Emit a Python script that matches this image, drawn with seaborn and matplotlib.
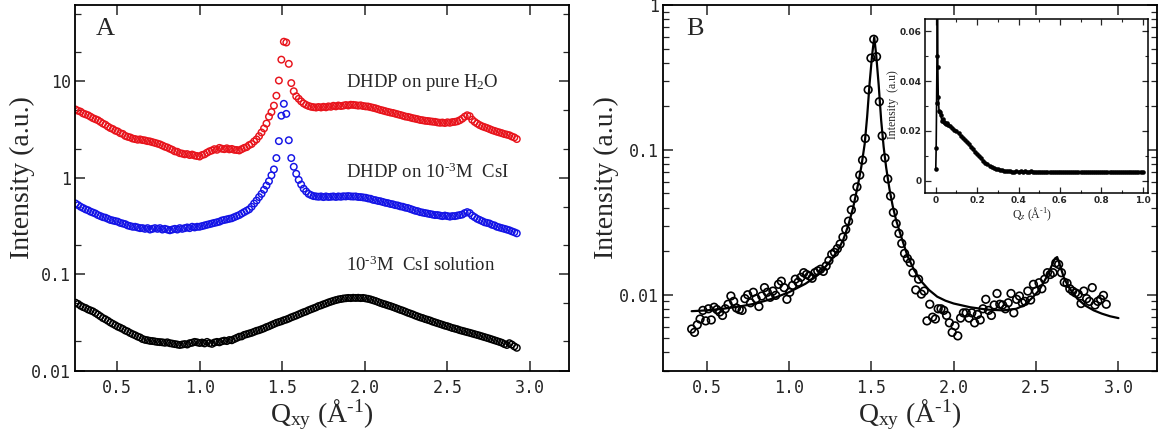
import numpy as np
import matplotlib
matplotlib.use("Agg")
import matplotlib.pyplot as plt
import seaborn as sns
from matplotlib.ticker import LogLocator, NullFormatter, MultipleLocator

# ---------------- Panel A data ----------------
Q_A = [
    0.250, 0.265, 0.280, 0.295, 0.310, 0.325, 0.340, 0.355, 0.370, 0.385,
    0.400, 0.415, 0.430, 0.445, 0.460, 0.475, 0.490, 0.505, 0.520, 0.535,
    0.550, 0.565, 0.580, 0.595, 0.610, 0.625, 0.640, 0.655, 0.670, 0.685,
    0.700, 0.715, 0.730, 0.745, 0.760, 0.775, 0.790, 0.805, 0.820, 0.835,
    0.850, 0.865, 0.880, 0.895, 0.910, 0.925, 0.940, 0.955, 0.970, 0.985,
    1.000, 1.015, 1.030, 1.045, 1.060, 1.075, 1.090, 1.105, 1.120, 1.135,
    1.150, 1.165, 1.180, 1.195, 1.210, 1.225, 1.240, 1.255, 1.270, 1.285,
    1.300, 1.315, 1.330, 1.345, 1.360, 1.375, 1.390, 1.405, 1.420, 1.435,
    1.450, 1.465, 1.480, 1.495, 1.510, 1.525, 1.540, 1.555, 1.570, 1.585,
    1.600, 1.615, 1.630, 1.645, 1.660, 1.675, 1.690, 1.705, 1.720, 1.735,
    1.750, 1.765, 1.780, 1.795, 1.810, 1.825, 1.840, 1.855, 1.870, 1.885,
    1.900, 1.915, 1.930, 1.945, 1.960, 1.975, 1.990, 2.005, 2.020, 2.035,
    2.050, 2.065, 2.080, 2.095, 2.110, 2.125, 2.140, 2.155, 2.170, 2.185,
    2.200, 2.215, 2.230, 2.245, 2.260, 2.275, 2.290, 2.305, 2.320, 2.335,
    2.350, 2.365, 2.380, 2.395, 2.410, 2.425, 2.440, 2.455, 2.470, 2.485,
    2.500, 2.515, 2.530, 2.545, 2.560, 2.575, 2.590, 2.605, 2.620, 2.635,
    2.650, 2.665, 2.680, 2.695, 2.710, 2.725, 2.740, 2.755, 2.770, 2.785,
    2.800, 2.815, 2.830, 2.845, 2.860, 2.875, 2.890, 2.905, 2.920,
]

I_H2O = [
    5.10, 4.95, 4.85, 4.65, 4.55, 4.45, 4.30, 4.15, 4.05, 3.95,
    3.80, 3.65, 3.55, 3.40, 3.28, 3.20, 3.08, 3.02, 2.90, 2.85,
    2.72, 2.66, 2.62, 2.55, 2.52, 2.48, 2.50, 2.46, 2.44, 2.40,
    2.38, 2.34, 2.30, 2.26, 2.22, 2.16, 2.10, 2.06, 2.00, 1.95,
    1.88, 1.86, 1.80, 1.78, 1.75, 1.76, 1.72, 1.74, 1.70, 1.68,
    1.66, 1.72, 1.75, 1.82, 1.88, 1.92, 1.98, 1.95, 2.04, 2.00,
    1.98, 2.02, 1.97, 1.99, 1.95, 1.94, 1.92, 1.98, 2.04, 2.08,
    2.18, 2.24, 2.38, 2.50, 2.70, 2.95, 3.25, 3.65, 4.30, 4.80,
    5.60, 7.10, 10.2, 16.8, 25.8, 25.3, 15.2, 9.6, 7.9, 7.0,
    6.6, 6.2, 5.9, 5.7, 5.55, 5.45, 5.40, 5.35, 5.42, 5.36,
    5.45, 5.38, 5.50, 5.45, 5.58, 5.50, 5.62, 5.55, 5.60, 5.68,
    5.62, 5.72, 5.70, 5.66, 5.60, 5.64, 5.55, 5.50, 5.48, 5.40,
    5.32, 5.25, 5.15, 5.05, 4.98, 4.90, 4.82, 4.75, 4.70, 4.62,
    4.55, 4.48, 4.40, 4.32, 4.28, 4.22, 4.15, 4.10, 4.05, 3.98,
    3.95, 3.90, 3.88, 3.85, 3.82, 3.80, 3.75, 3.72, 3.74, 3.70,
    3.76, 3.72, 3.78, 3.80, 3.85, 3.95, 4.10, 4.30, 4.45, 4.35,
    4.00, 3.80, 3.65, 3.52, 3.42, 3.35, 3.28, 3.20, 3.12, 3.06,
    3.00, 2.95, 2.90, 2.84, 2.80, 2.76, 2.68, 2.62, 2.52,
]

I_CSI = [
    0.54, 0.52, 0.50, 0.485, 0.47, 0.46, 0.445, 0.435, 0.425, 0.41,
    0.40, 0.39, 0.385, 0.375, 0.365, 0.36, 0.355, 0.35, 0.34, 0.335,
    0.33, 0.32, 0.315, 0.31, 0.31, 0.305, 0.30, 0.30, 0.295, 0.30,
    0.29, 0.295, 0.30, 0.295, 0.30, 0.29, 0.295, 0.29, 0.285, 0.29,
    0.295, 0.29, 0.30, 0.295, 0.30, 0.305, 0.30, 0.31, 0.305, 0.31,
    0.31, 0.315, 0.32, 0.325, 0.33, 0.335, 0.34, 0.345, 0.35, 0.36,
    0.365, 0.37, 0.375, 0.38, 0.39, 0.40, 0.41, 0.425, 0.44, 0.455,
    0.47, 0.50, 0.54, 0.58, 0.63, 0.68, 0.75, 0.83, 0.92, 1.06,
    1.22, 1.60, 2.40, 4.40, 5.85, 4.60, 2.45, 1.60, 1.30, 1.10,
    0.95, 0.85, 0.77, 0.72, 0.68, 0.66, 0.645, 0.64, 0.635, 0.64,
    0.63, 0.64, 0.632, 0.635, 0.64, 0.632, 0.64, 0.635, 0.642, 0.64,
    0.645, 0.64, 0.638, 0.64, 0.632, 0.63, 0.625, 0.62, 0.61, 0.605,
    0.59, 0.585, 0.575, 0.57, 0.56, 0.55, 0.545, 0.535, 0.53, 0.52,
    0.515, 0.505, 0.50, 0.49, 0.485, 0.475, 0.465, 0.455, 0.45, 0.44,
    0.435, 0.43, 0.425, 0.42, 0.415, 0.41, 0.41, 0.405, 0.40, 0.405,
    0.40, 0.395, 0.40, 0.40, 0.405, 0.41, 0.415, 0.43, 0.44, 0.43,
    0.405, 0.39, 0.375, 0.365, 0.355, 0.345, 0.34, 0.335, 0.325, 0.32,
    0.31, 0.305, 0.30, 0.295, 0.29, 0.285, 0.278, 0.272, 0.265,
]

I_SOL = [
    0.0505, 0.049, 0.047, 0.0455, 0.0445, 0.043, 0.042, 0.041, 0.0395, 0.038,
    0.0365, 0.035, 0.034, 0.0328, 0.0315, 0.0305, 0.0295, 0.0285, 0.0278, 0.027,
    0.026, 0.0254, 0.0245, 0.0238, 0.0232, 0.0225, 0.022, 0.0212, 0.0208, 0.0206,
    0.0203, 0.0202, 0.020, 0.0198, 0.0197, 0.0196, 0.0194, 0.0196, 0.0192, 0.019,
    0.0188, 0.0186, 0.0184, 0.0186, 0.0188, 0.0186, 0.0192, 0.0194, 0.0198, 0.0196,
    0.0193, 0.0195, 0.0191, 0.0198, 0.0192, 0.0189, 0.0195, 0.0198, 0.0196, 0.0201,
    0.0204, 0.0202, 0.0207, 0.0206, 0.0212, 0.0218, 0.0224, 0.0226, 0.0234, 0.0238,
    0.0242, 0.0246, 0.0252, 0.0258, 0.0262, 0.0268, 0.0274, 0.0282, 0.0288, 0.0296,
    0.0304, 0.0312, 0.0318, 0.0324, 0.0332, 0.0338, 0.0346, 0.0356, 0.0364, 0.0372,
    0.0382, 0.0392, 0.0402, 0.041, 0.0422, 0.0432, 0.0442, 0.0452, 0.0466, 0.0474,
    0.0486, 0.0496, 0.0508, 0.0518, 0.0528, 0.0538, 0.0546, 0.0552, 0.0558, 0.0562,
    0.0566, 0.0564, 0.0568, 0.0566, 0.0568, 0.0564, 0.0566, 0.056, 0.0554, 0.0546,
    0.0536, 0.0526, 0.0514, 0.0502, 0.0492, 0.0484, 0.0474, 0.0466, 0.0456, 0.0446,
    0.0436, 0.0426, 0.0418, 0.0408, 0.0398, 0.039, 0.0382, 0.0372, 0.0364, 0.0356,
    0.035, 0.0342, 0.0336, 0.033, 0.0322, 0.0316, 0.031, 0.0304, 0.0298, 0.0292,
    0.0288, 0.0282, 0.0276, 0.0272, 0.0268, 0.0262, 0.0258, 0.0254, 0.025, 0.0246,
    0.0242, 0.0238, 0.0234, 0.023, 0.0226, 0.0222, 0.0218, 0.0214, 0.021, 0.0206,
    0.0202, 0.0198, 0.0194, 0.0188, 0.0184, 0.0192, 0.0186, 0.0178, 0.0172,
]

LABEL_H2O = "DHDP on pure H$_2$O"
LABEL_CSI = "DHDP on 10$^{\\text{-3}}$M  CsI"
LABEL_SOL = "10$^{\\text{-3}}$M  CsI solution"

# ---------------- Panel B data ----------------
Q_B = [
    0.410, 0.427, 0.444, 0.461, 0.478, 0.495, 0.512, 0.529, 0.546, 0.563,
    0.580, 0.597, 0.614, 0.631, 0.648, 0.665, 0.682, 0.699, 0.716, 0.733,
    0.750, 0.767, 0.784, 0.801, 0.818, 0.835, 0.852, 0.869, 0.886, 0.903,
    0.920, 0.937, 0.954, 0.971, 0.988, 1.005, 1.022, 1.039, 1.056, 1.073,
    1.090, 1.107, 1.124, 1.141, 1.158, 1.175, 1.192, 1.209, 1.226, 1.243,
    1.260, 1.277, 1.294, 1.311, 1.328, 1.345, 1.362, 1.379, 1.396, 1.413,
    1.430, 1.447, 1.464, 1.481, 1.498, 1.515, 1.532, 1.549, 1.566, 1.583,
    1.600, 1.617, 1.634, 1.651, 1.668, 1.685, 1.702, 1.719, 1.736, 1.753,
    1.770, 1.787, 1.804, 1.821, 1.838, 1.855, 1.872, 1.889, 1.906, 1.923,
    1.940, 1.957, 1.974, 1.991, 2.008, 2.025, 2.042, 2.059, 2.076, 2.093,
    2.110, 2.127, 2.144, 2.161, 2.178, 2.195, 2.212, 2.229, 2.246, 2.263,
    2.280, 2.297, 2.314, 2.331, 2.348, 2.365, 2.382, 2.399, 2.416, 2.433,
    2.450, 2.467, 2.484, 2.501, 2.518, 2.535, 2.552, 2.569, 2.586, 2.603,
    2.620, 2.637, 2.654, 2.671, 2.688, 2.705, 2.722, 2.739, 2.756, 2.773,
    2.790, 2.807, 2.824, 2.841, 2.858, 2.875, 2.892, 2.909, 2.926,
]

I_B = [
    0.0058, 0.0055, 0.0062, 0.0068, 0.0078, 0.0066, 0.0080, 0.0067, 0.0082, 0.0079,
    0.0076, 0.0072, 0.0080, 0.0086, 0.0098, 0.0090, 0.0081, 0.0079, 0.0078, 0.0094,
    0.0100, 0.0088, 0.0104, 0.0094, 0.0083, 0.0098, 0.0112, 0.0104, 0.0096, 0.0106,
    0.0099, 0.0118, 0.0124, 0.0112, 0.0093, 0.0104, 0.0116, 0.0128, 0.0122, 0.0132,
    0.0142, 0.0138, 0.0135, 0.0130, 0.0142, 0.0146, 0.0150, 0.0145, 0.0158, 0.0172,
    0.0190, 0.0196, 0.0208, 0.0224, 0.0250, 0.0282, 0.0322, 0.0385, 0.0462, 0.0555,
    0.0670, 0.0850, 0.1200, 0.2600, 0.4300, 0.5800, 0.4400, 0.2150, 0.1250, 0.0880,
    0.0630, 0.0480, 0.0370, 0.0310, 0.0265, 0.0226, 0.0193, 0.0178, 0.0167, 0.0142,
    0.0108, 0.0128, 0.0101, 0.0106, 0.0066, 0.0086, 0.0070, 0.0068, 0.0080, 0.0080,
    0.0078, 0.0072, 0.0064, 0.0055, 0.0061, 0.0052, 0.0069, 0.0075, 0.0075, 0.0069,
    0.0075, 0.0064, 0.0073, 0.0067, 0.0080, 0.0093, 0.0078, 0.0072, 0.0085, 0.0102,
    0.0086, 0.0085, 0.0080, 0.0088, 0.0102, 0.0075, 0.0093, 0.0098, 0.0088, 0.0090,
    0.0106, 0.0092, 0.0118, 0.0106, 0.0121, 0.0110, 0.0128, 0.0142, 0.0138, 0.0142,
    0.0166, 0.0162, 0.0142, 0.0122, 0.0120, 0.0110, 0.0106, 0.0103, 0.0101, 0.0087,
    0.0106, 0.0094, 0.0090, 0.0112, 0.0085, 0.0090, 0.0093, 0.0099, 0.0086,
]

FIT_Q = [
    0.41, 0.50, 0.60, 0.70, 0.80, 0.90, 1.00, 1.10, 1.15, 1.20,
    1.25, 1.30, 1.33, 1.36, 1.39, 1.42, 1.44, 1.46, 1.475, 1.49,
    1.505, 1.518, 1.53, 1.545, 1.56, 1.575, 1.59, 1.61, 1.63, 1.65,
    1.68, 1.72, 1.76, 1.80, 1.85, 1.90, 1.95, 2.00, 2.10, 2.20,
    2.30, 2.38, 2.43, 2.48, 2.52, 2.56, 2.59, 2.615, 2.628, 2.645,
    2.67, 2.70, 2.75, 2.80, 2.85, 2.90, 2.95, 3.00,
]
FIT_I = [
    0.0077, 0.0078, 0.0080, 0.0083, 0.0087, 0.0094, 0.0104, 0.0119, 0.0130, 0.0146,
    0.0170, 0.0205, 0.0240, 0.0300, 0.0400, 0.0580, 0.0770, 0.1100, 0.1700, 0.2900,
    0.4500, 0.6000, 0.4500, 0.2800, 0.1600, 0.1050, 0.0760, 0.0540, 0.0410, 0.0330,
    0.0255, 0.0185, 0.0148, 0.0125, 0.0108, 0.0097, 0.0091, 0.0087, 0.0082, 0.0079,
    0.0078, 0.0080, 0.0085, 0.0096, 0.0108, 0.0130, 0.0154, 0.0178, 0.0182, 0.0160,
    0.0130, 0.0112, 0.0094, 0.0084, 0.0078, 0.0074, 0.0071, 0.0069,
]

# ---------------- Inset data ----------------
QZ = [
    0.000, 0.002, 0.004, 0.006, 0.008, 0.010, 0.012, 0.016,
    0.020, 0.025, 0.030, 0.035, 0.040, 0.045, 0.050, 0.055, 0.060,
    0.07, 0.08, 0.09, 0.10, 0.11, 0.12, 0.13, 0.14, 0.15, 0.16,
    0.17, 0.18, 0.19, 0.20, 0.21, 0.22, 0.23, 0.24, 0.25, 0.26,
    0.27, 0.28, 0.29, 0.30, 0.31, 0.32, 0.33, 0.34, 0.35, 0.36,
    0.37, 0.38, 0.39, 0.40, 0.41, 0.42, 0.43, 0.44, 0.45, 0.46,
    0.47, 0.48, 0.49, 0.50, 0.51, 0.52, 0.53, 0.54, 0.55, 0.56,
    0.57, 0.58, 0.59, 0.60, 0.61, 0.62, 0.63, 0.64, 0.65, 0.66,
    0.67, 0.68, 0.69, 0.70, 0.71, 0.72, 0.73, 0.74, 0.75, 0.76,
    0.77, 0.78, 0.79, 0.80, 0.81, 0.82, 0.83, 0.84, 0.85, 0.86,
    0.87, 0.88, 0.89, 0.90, 0.91, 0.92, 0.93, 0.94, 0.95, 0.96,
    0.97, 0.98, 0.99, 1.00,
]
IZ = [
    0.0046, 0.0131, 0.0312, 0.0500, 0.1000, 0.0458, 0.0337, 0.0280,
    0.0274, 0.0262, 0.0238, 0.0246, 0.0236, 0.0230, 0.0228, 0.0232, 0.0224,
    0.0220, 0.0213, 0.0205, 0.0198, 0.0190, 0.0181, 0.0173, 0.0164, 0.0156, 0.0146,
    0.0136, 0.0126, 0.0116, 0.0105, 0.0097, 0.0089, 0.0080, 0.0072, 0.0066, 0.0060,
    0.0055, 0.0051, 0.0048, 0.0046, 0.0044, 0.0042, 0.0040, 0.0038, 0.0037, 0.0037,
    0.0036, 0.0035, 0.0037, 0.0036, 0.0038, 0.0036, 0.0037, 0.0035, 0.0036, 0.0037,
    0.0035, 0.0036, 0.0034, 0.0036, 0.0035, 0.0034, 0.0035, 0.0036, 0.0034, 0.0035,
    0.0034, 0.0035, 0.0034, 0.0036, 0.0034, 0.0035, 0.0033, 0.0035, 0.0034, 0.0035,
    0.0034, 0.0033, 0.0035, 0.0034, 0.0034, 0.0035, 0.0033, 0.0034, 0.0035, 0.0034,
    0.0033, 0.0035, 0.0034, 0.0034, 0.0035, 0.0034, 0.0035, 0.0034, 0.0036, 0.0034,
    0.0035, 0.0034, 0.0035, 0.0034, 0.0035, 0.0034, 0.0035, 0.0036, 0.0034, 0.0035,
    0.0034, 0.0035, 0.0036, 0.0035,
]

for a, b in [(Q_A, I_H2O), (Q_A, I_CSI), (Q_A, I_SOL), (Q_B, I_B), (FIT_Q, FIT_I), (QZ, IZ)]:
    assert len(a) == len(b), (len(a), len(b))

X_TICKS = [0.5, 1.0, 1.5, 2.0, 2.5, 3.0]
X_TICKLABELS = ["0.5", "1.0", "1.5", "2.0", "2.5", "3.0"]
A_YTICKS = [0.01, 0.1, 1, 10]
A_YTICKLABELS = ["0.01", "0.1", "1", "10"]
B_YTICKS = [0.01, 0.1, 1]
B_YTICKLABELS = ["0.01", "0.1", "1"]
INS_XTICKS = [0, 0.2, 0.4, 0.6, 0.8, 1.0]
INS_XTICKLABELS = ["0", "0.2", "0.4", "0.6", "0.8", "1.0"]
INS_YTICKS = [0, 0.02, 0.04, 0.06]
INS_YTICKLABELS = ["0", "0.02", "0.04", "0.06"]

RED = "#e8141c"
BLUE = "#1414e6"
BLACK = "#000000"

# ---------------- Style ----------------
sns.set_style("ticks")
plt.rcParams.update({
    "font.family": ["Liberation Serif", "DejaVu Serif"],
    "mathtext.fontset": "custom",
    "mathtext.rm": "Liberation Serif",
    "mathtext.it": "Liberation Serif:italic",
    "mathtext.bf": "Liberation Serif:bold",
    "xtick.direction": "in",
    "ytick.direction": "in",
    "xtick.top": True,
    "ytick.right": True,
    "axes.linewidth": 1.3,
    "axes.edgecolor": "black",
})

W, H = 1163, 438
fig = plt.figure(figsize=(W / 100, H / 100), dpi=100)


def fx(px):
    return px / W


def fy(py):
    return 1 - py / H


TICK_FONT = {"family": "DejaVu Sans Mono", "size": 12}
XLABEL = "Q$_{\\mathrm{xy}}$ (Å$^{\\text{-1}}$)"

axA = fig.add_axes([fx(75), fy(370.5), fx(494), (370.5 - 5) / H])
axB = fig.add_axes([fx(663), fy(370.5), fx(494), (370.5 - 5) / H])
ins = fig.add_axes([fx(925), fy(193), fx(223), (193 - 19) / H])

# ---- Panel A ----
for vals, col in [(I_H2O, RED), (I_CSI, BLUE), (I_SOL, BLACK)]:
    sns.scatterplot(x=Q_A, y=vals, ax=axA, marker="o", s=22, color=col,
                    facecolor="none", edgecolor=col, linewidth=1.05, legend=False)
axA.set_yscale("log")
axA.set_xlim(0.246, 3.236)
axA.set_ylim(0.01, 62)
axA.set_xticks(X_TICKS)
axA.set_xticklabels(X_TICKLABELS, fontdict=TICK_FONT)
axA.set_yticks(A_YTICKS)
axA.set_yticklabels(A_YTICKLABELS, fontdict=TICK_FONT)
axA.yaxis.set_minor_locator(LogLocator(base=10, subs=(2.0, 5.0)))
axA.yaxis.set_minor_formatter(NullFormatter())
axA.text(1.884, 8.77, LABEL_H2O, fontsize=13.5, va="baseline", ha="left")
axA.text(1.884, 0.993, LABEL_CSI, fontsize=13.5, va="baseline", ha="left")
axA.text(1.889, 0.107, LABEL_SOL, fontsize=13.5, va="baseline", ha="left")
axA.text(0.0425, 0.965, "A", transform=axA.transAxes, fontsize=19, va="top", ha="left")

# ---- Panel B ----
sns.scatterplot(x=Q_B, y=I_B, ax=axB, marker="o", s=30, color=BLACK,
                facecolor="none", edgecolor=BLACK, linewidth=1.2, legend=False, zorder=2)
sns.lineplot(x=FIT_Q, y=FIT_I, ax=axB, color=BLACK, linewidth=1.6,
             estimator=None, sort=False, legend=False, zorder=3)
axB.set_yscale("log")
axB.set_xlim(0.236, 3.234)
axB.set_ylim(0.003, 1.0)
axB.set_xticks(X_TICKS)
axB.set_xticklabels(X_TICKLABELS, fontdict=TICK_FONT)
axB.set_yticks(B_YTICKS)
axB.set_yticklabels(B_YTICKLABELS, fontdict=TICK_FONT)
axB.yaxis.set_minor_locator(LogLocator(base=10, subs=np.arange(2, 10)))
axB.yaxis.set_minor_formatter(NullFormatter())
axB.text(0.047, 0.965, "B", transform=axB.transAxes, fontsize=19, va="top", ha="left")

for ax in (axA, axB):
    ax.tick_params(which="major", length=7, width=1.1)
    ax.tick_params(which="minor", length=4, width=0.9)
    ax.tick_params(axis="x", which="both", pad=6)
    ax.tick_params(axis="y", which="both", pad=3)
    ax.set_ylabel("Intensity (a.u.)", fontsize=20)
    ax.set_xlabel(XLABEL, fontsize=20, va="top")
    ax.xaxis.set_label_coords(0.5, -0.072)
    for sp in ax.spines.values():
        sp.set_linewidth(1.3)
        sp.set_visible(True)
axA.yaxis.set_label_coords(-0.081, 0.527)
axB.yaxis.set_label_coords(-0.089, 0.527)

# ---- Inset ----
sns.lineplot(x=QZ, y=IZ, ax=ins, color=BLACK, linewidth=1.2, marker="o",
             markersize=3.3, markeredgewidth=0, estimator=None, sort=False, legend=False)
ins.set_xlim(-0.052, 1.026)
ins.set_ylim(-0.005, 0.065)
ins.set_xticks(INS_XTICKS)
ins.set_xticklabels(INS_XTICKLABELS, fontdict={"family": "DejaVu Sans", "size": 6.5, "weight": "bold"})
ins.set_yticks(INS_YTICKS)
ins.set_yticklabels(INS_YTICKLABELS, fontdict={"family": "DejaVu Sans", "size": 6.5, "weight": "bold"})
ins.xaxis.set_minor_locator(MultipleLocator(0.1))
ins.yaxis.set_minor_locator(MultipleLocator(0.01))
ins.tick_params(which="major", length=4, width=0.9, pad=2.5)
ins.tick_params(which="minor", length=2.5, width=0.8)
ins.set_xlabel("Q$_z$ (Å$^{\\text{-1}}$)", fontsize=8.5, va="top")
ins.set_ylabel("Intensity  (a.u)", fontsize=8.5)
ins.xaxis.set_label_coords(0.48, -0.075)
ins.yaxis.set_label_coords(-0.115, 0.506)
for sp in ins.spines.values():
    sp.set_linewidth(1.1)

fig.savefig("out.png", dpi=100)
